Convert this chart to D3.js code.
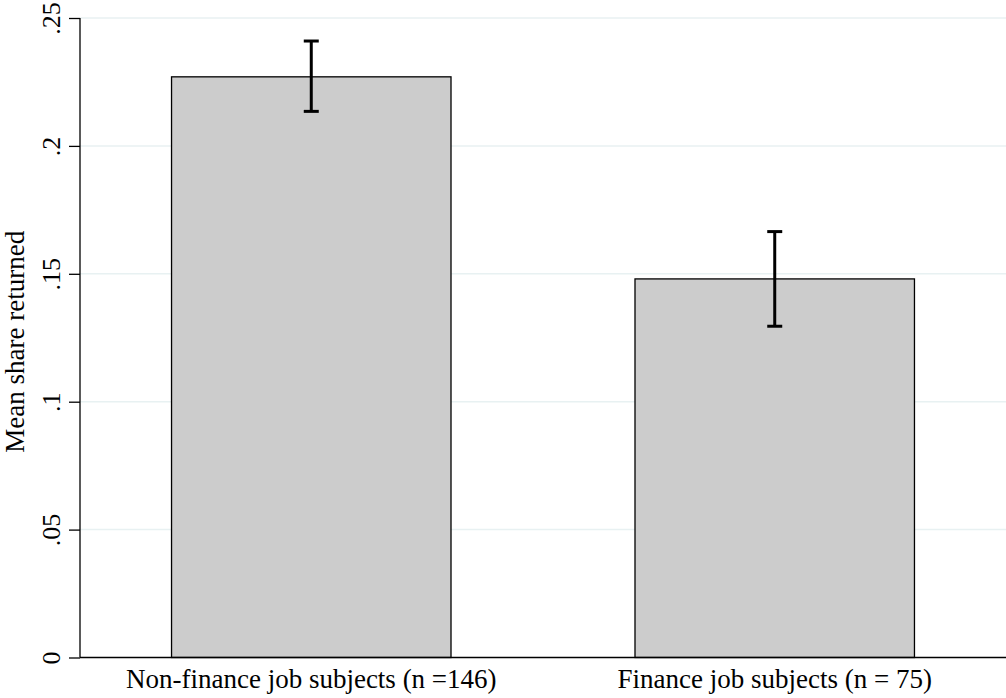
<!DOCTYPE html>
<html>
<head>
<meta charset="utf-8">
<script src="https://cdn.jsdelivr.net/npm/d3@7"></script>
<style>
  body { margin: 0; background: #fff; }
  svg { display: block; }
  svg text { font-family: "Liberation Serif", "Times New Roman", serif; }
</style>
</head>
<body>
<svg id="chart" width="1006" height="698"></svg>
<script>
const groups = ["Non-finance job subjects (n =146)", "Finance job subjects (n = 75)"];
const means = [0.227, 0.148];
const ciLow = [0.2135, 0.1295];
const ciHigh = [0.241, 0.1665];
const yTicks = [0, 0.05, 0.1, 0.15, 0.2, 0.25];
const yTickLabels = ["0", ".05", ".1", ".15", ".2", ".25"];

const svg = d3.select("#chart");
const margin = { top: 18, right: 0, bottom: 40.5, left: 80 };
const width = 1006, height = 698;
const innerW = width - margin.left - margin.right;
const innerH = height - margin.top - margin.bottom;

const g = svg.append("g").attr("transform", `translate(${margin.left},${margin.top})`);

const x = d3.scaleBand().domain(groups).range([0, innerW]).paddingInner(0.397).paddingOuter(0.1975);
const y = d3.scaleLinear().domain([0, 0.25]).range([innerH, 0]);

// grid
g.selectAll(".grid")
  .data(yTicks.slice(1))
  .join("line")
  .attr("x1", 0).attr("x2", innerW)
  .attr("y1", d => y(d)).attr("y2", d => y(d))
  .attr("stroke", "#e8f1f2").attr("stroke-width", 1.5);

// bars
g.selectAll(".bar")
  .data(groups)
  .join("rect")
  .attr("x", d => x(d))
  .attr("y", (d, i) => y(means[i]))
  .attr("width", x.bandwidth())
  .attr("height", (d, i) => innerH - y(means[i]))
  .attr("fill", "#cccccc")
  .attr("stroke", "#000")
  .attr("stroke-width", 1.3);

// error bars
const capW = 7.5;
groups.forEach((d, i) => {
  const cx = x(d) + x.bandwidth() / 2;
  g.append("line").attr("x1", cx).attr("x2", cx)
    .attr("y1", y(ciLow[i])).attr("y2", y(ciHigh[i]))
    .attr("stroke", "#000").attr("stroke-width", 3);
  [ciLow[i], ciHigh[i]].forEach(v => {
    g.append("line").attr("x1", cx - capW).attr("x2", cx + capW)
      .attr("y1", y(v)).attr("y2", y(v))
      .attr("stroke", "#000").attr("stroke-width", 3);
  });
});

// y axis
const yAxis = g.append("g")
  .call(d3.axisLeft(y).tickValues(yTicks).tickFormat((d, i) => yTickLabels[i]).tickSize(11));
yAxis.attr("font-family", null);
yAxis.select(".domain").attr("stroke", "#000").attr("stroke-width", 1.3).attr("d", `M0,${innerH}V0`);
yAxis.selectAll(".tick line").attr("stroke", "#000").attr("stroke-width", 1.3);
yAxis.selectAll(".tick text")
  .attr("font-size", 26)
  .attr("fill", "#000")
  .attr("text-anchor", "middle")
  .attr("dy", 0)
  .attr("x", 0)
  .attr("y", 0)
  .attr("transform", "translate(-20,0) rotate(-90)");

// x axis
const xAxis = g.append("g")
  .attr("transform", `translate(0,${innerH})`)
  .call(d3.axisBottom(x).tickSize(0));
xAxis.attr("font-family", null);
xAxis.select(".domain").attr("stroke", "#000").attr("stroke-width", 1.3).attr("d", `M0,0H${innerW}`);
xAxis.selectAll(".tick text")
  .attr("font-size", 27)
  .attr("fill", "#000")
  .attr("dy", 0)
  .attr("y", 30.5);

// y label
svg.append("text")
  .attr("transform", `translate(24,${margin.top + innerH / 2 + 4}) rotate(-90)`)
  .attr("text-anchor", "middle")
  .attr("font-size", 27)
  .text("Mean share returned");
</script>
</body>
</html>
